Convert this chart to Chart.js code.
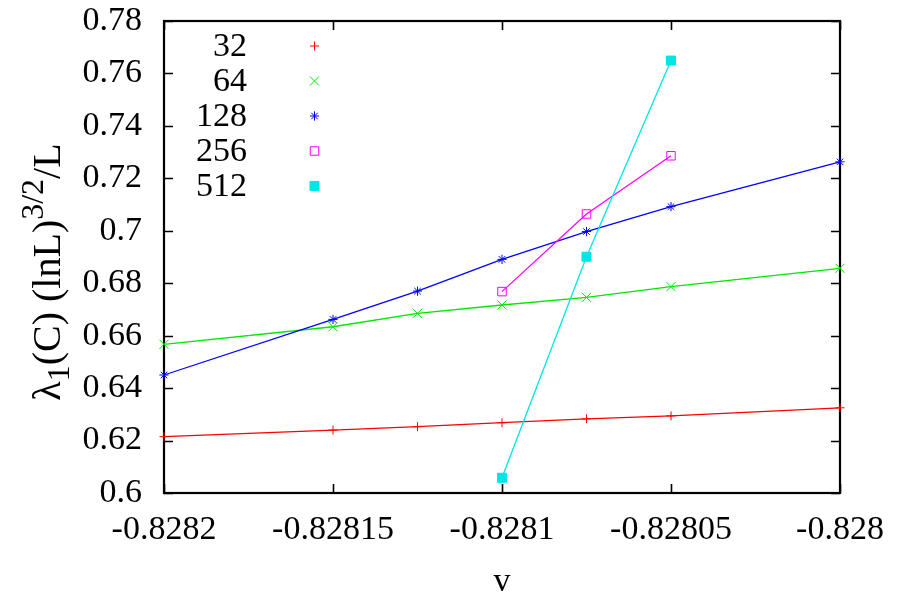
<!DOCTYPE html>
<html>
<head>
<meta charset="utf-8">
<script src="https://cdn.jsdelivr.net/npm/chart.js@4/dist/chart.umd.min.js"></script>
<style>
  html, body { margin: 0; padding: 0; background: #fff; }
  #wrap { position: relative; width: 900px; height: 596px; }
</style>
</head>
<body>
<div id="wrap"><canvas id="c"></canvas></div>
<script>
// coupling v at which the spectral gap was computed
const vAll = [-0.8282, -0.82815, -0.828125, -0.8281, -0.828075, -0.82805, -0.828];
const vLarge = [-0.8281, -0.828075, -0.82805];

// scaled gap lambda_1 (ln L)^{3/2} / L for each system size L
const sizes = ['32', '64', '128', '256', '512'];
const gap32  = [0.6215, 0.6240, 0.6253, 0.6268, 0.6283, 0.6294, 0.6325];
const gap64  = [0.6567, 0.6634, 0.6685, 0.6717, 0.6746, 0.6787, 0.6857];
const gap128 = [0.6450, 0.6662, 0.6770, 0.6891, 0.6997, 0.7092, 0.7263];
const gap256 = [0.6768, 0.7064, 0.7286];
const gap512 = [0.6058, 0.6901, 0.7649];

// axis ticks
const xTicks = [-0.8282, -0.82815, -0.8281, -0.82805, -0.828];
const yTicks = [0.6, 0.62, 0.64, 0.66, 0.68, 0.7, 0.72, 0.74, 0.76, 0.78];

const FONT = 'Liberation Serif, Times New Roman, serif';
const FS = 34;

const pts = (xs, ys) => xs.map((v, i) => ({ x: v, y: ys[i] }));

function series(label, xs, ys, color, style, radius, filled, order) {
  return {
    label,
    data: pts(xs, ys),
    showLine: true,
    borderColor: color,
    backgroundColor: color,
    borderWidth: 1.3,
    pointStyle: style,
    pointRadius: radius,
    pointHoverRadius: radius,
    pointBorderColor: color,
    pointBackgroundColor: filled ? color : 'rgba(0,0,0,0)',
    pointBorderWidth: 1,
    clip: false,
    order
  };
}

const datasets = [
  series(sizes[0], vAll, gap32,  'rgb(255,0,0)',   'cross',    4.5, false, 5),
  series(sizes[1], vAll, gap64,  'rgb(0,230,0)',   'crossRot', 6.4, false, 4),
  series(sizes[2], vAll, gap128, 'rgb(0,0,255)',   'star',     4.6, false, 3),
  series(sizes[3], vLarge, gap256, 'rgb(255,0,255)', 'rect',   6.0, false, 2),
  series(sizes[4], vLarge, gap512, 'rgb(0,230,230)', 'rect',   6.4, true,  1)
];

// frame with inward ticks on all four sides
const framePlugin = {
  id: 'frame',
  beforeDatasetsDraw(chart) {
    const { ctx, chartArea: a, scales: { x, y } } = chart;
    ctx.save();
    ctx.strokeStyle = '#000';
    ctx.lineWidth = 1.6;
    ctx.beginPath();
    x.ticks.forEach(t => {
      const px = Math.round(x.getPixelForValue(t.value)) + 0.5;
      ctx.moveTo(px, a.bottom); ctx.lineTo(px, a.bottom - 9);
      ctx.moveTo(px, a.top);    ctx.lineTo(px, a.top + 9);
    });
    y.ticks.forEach(t => {
      const py = Math.round(y.getPixelForValue(t.value)) + 0.5;
      ctx.moveTo(a.left, py);  ctx.lineTo(a.left + 9, py);
      ctx.moveTo(a.right, py); ctx.lineTo(a.right - 9, py);
    });
    ctx.stroke();
    ctx.lineWidth = 2.2;
    ctx.strokeRect(a.left, a.top, a.width, a.height);
    ctx.restore();
  }
};

// key in the upper left: size label followed by its point symbol
const keyPlugin = {
  id: 'key',
  afterDatasetsDraw(chart) {
    const ctx = chart.ctx;
    ctx.save();
    ctx.font = `${FS}px ${FONT}`;
    ctx.textAlign = 'right';
    ctx.textBaseline = 'middle';
    chart.data.datasets.forEach((ds, i) => {
      const yy = 46 + i * 35;
      ctx.fillStyle = '#000';
      ctx.fillText(ds.label, 247, yy + 1);
      ctx.strokeStyle = ds.pointBorderColor;
      ctx.fillStyle = ds.pointBackgroundColor;
      ctx.lineWidth = ds.pointBorderWidth;
      Chart.helpers.drawPoint(ctx, {
        pointStyle: ds.pointStyle, radius: ds.pointRadius,
        borderWidth: ds.pointBorderWidth, rotation: 0
      }, 314.5, yy);
    });
    ctx.restore();
  }
};

// axis titles; the y title carries a subscript and a superscript
const TS = 40;
const titlePlugin = {
  id: 'titles',
  afterDraw(chart) {
    const { ctx, chartArea: a } = chart;
    ctx.save();
    ctx.fillStyle = '#000';
    ctx.font = `${FS}px ${FONT}`;
    ctx.textAlign = 'center';
    ctx.textBaseline = 'alphabetic';
    ctx.fillText('v', (a.left + a.right) / 2, 591);

    const parts = [
      { t: 'λ', s: 1, dy: 0 },
      { t: '1', s: 0.8, dy: 0.22 },
      { t: '(C) (lnL)', s: 1, dy: 0 },
      { t: '3/2', s: 0.8, dy: -0.42 },
      { t: '/L', s: 1, dy: 0 }
    ];
    let total = 0;
    parts.forEach(p => {
      ctx.font = `${TS * p.s}px ${FONT}`;
      p.w = ctx.measureText(p.t).width;
      total += p.w;
    });
    ctx.translate(60, 272);
    ctx.rotate(-Math.PI / 2);
    ctx.textAlign = 'left';
    let cx = -total / 2;
    parts.forEach(p => {
      ctx.font = `${TS * p.s}px ${FONT}`;
      ctx.fillText(p.t, cx, p.dy * TS);
      cx += p.w;
    });
    ctx.restore();
  }
};

new Chart(document.getElementById('c'), {
  type: 'scatter',
  data: { datasets },
  options: {
    responsive: true,
    maintainAspectRatio: false,
    animation: false,
    devicePixelRatio: 1,
    layout: { padding: { top: 21, right: 60, bottom: 0, left: 0 } },
    plugins: { legend: { display: false }, tooltip: { enabled: false } },
    scales: {
      x: {
        type: 'linear',
        min: xTicks[0],
        max: xTicks[xTicks.length - 1],
        afterBuildTicks: s => { s.ticks = xTicks.map(v => ({ value: v })); },
        afterFit: s => { s.height = 103; s.paddingLeft = 0; s.paddingRight = 0; },
        grid: { display: false, drawTicks: false },
        border: { display: false },
        ticks: {
          color: '#000',
          font: { family: FONT, size: FS },
          padding: 17,
          maxRotation: 0,
          autoSkip: false,
          callback: v => String(v)
        }
      },
      y: {
        type: 'linear',
        min: yTicks[0],
        max: yTicks[yTicks.length - 1],
        afterBuildTicks: s => { s.ticks = yTicks.map(v => ({ value: v })); },
        afterFit: s => { s.width = 164; s.paddingTop = 0; s.paddingBottom = 0; },
        grid: { display: false, drawTicks: false },
        border: { display: false },
        ticks: {
          color: '#000',
          font: { family: FONT, size: FS },
          padding: 22,
          autoSkip: false,
          callback: v => String(v)
        }
      }
    }
  },
  plugins: [framePlugin, keyPlugin, titlePlugin]
});
</script>
</body>
</html>
